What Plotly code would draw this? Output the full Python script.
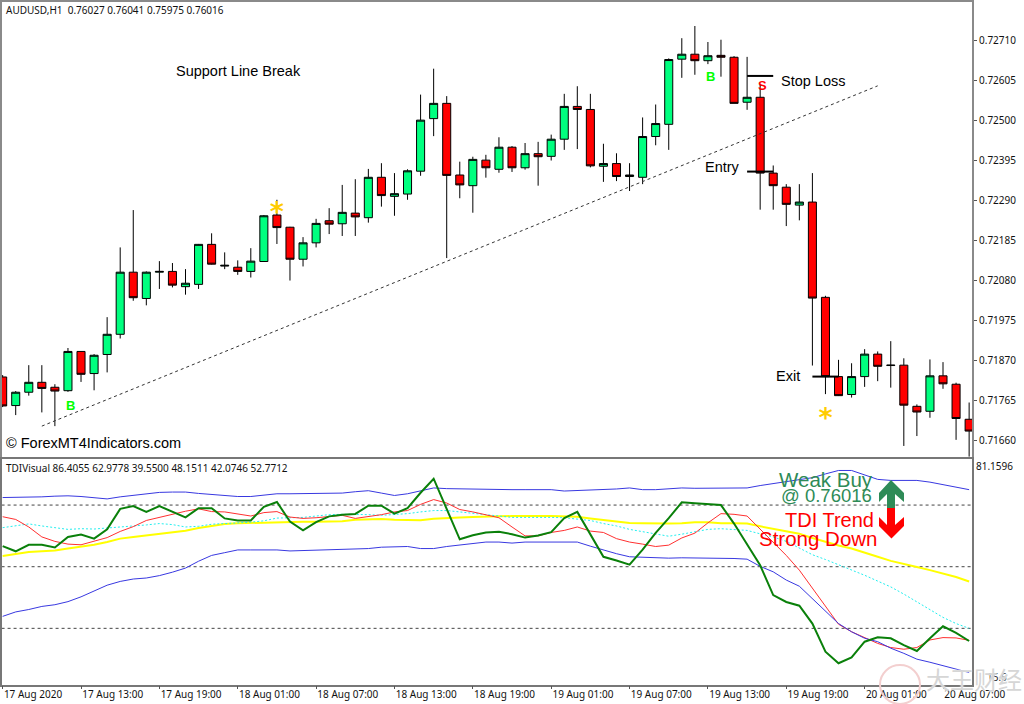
import plotly.graph_objects as go

# ---- price data (in 1e-5 price points) ----
opens_pts = [71828,71753,71788,71814,71801,71792,71895,71837,71887,71940,72103,72034,72103,72105,72065,72071,72176,72119,72116,72105,72131,72253,72221,72137,72180,72238,72230,72258,72246,72352,72302,72308,72368,72506,72546,72358,72330,72397,72373,72431,72377,72414,72407,72452,72538,72530,72381,72388,72354,72352,72459,72491,72662,72675,72658,72672,72667,72549,72562,72363,72326,72279,72287,72037,71829,71782,71829,71888,71858,71859,71751,71738,71831,71809,71717]
highs_pts = [71833,71791,71859,71859,71809,71904,71896,71888,71985,72168,72266,72105,72132,72127,72111,72177,72205,72155,72134,72166,72253,72293,72222,72195,72243,72271,72332,72347,72374,72389,72363,72373,72569,72637,72565,72393,72406,72411,72457,72434,72442,72445,72464,72571,72591,72571,72440,72415,72389,72509,72543,72664,72717,72749,72707,72713,72670,72668,72595,72383,72334,72334,72363,72041,71873,71864,71901,71895,71922,71877,71756,71874,71867,71813,71761]
lows_pts = [71749,71728,71779,71735,71699,71789,71815,71793,71840,71929,72028,72016,72059,72063,72044,72059,72123,72111,72096,72089,72130,72177,72081,72118,72168,72203,72198,72198,72233,72275,72251,72293,72356,72460,72140,72297,72259,72351,72364,72366,72372,72330,72396,72424,72426,72378,72340,72342,72316,72334,72436,72424,72613,72621,72649,72616,72546,72529,72267,72267,72224,72239,71858,71783,71778,71774,71802,71817,71800,71647,71673,71721,71797,71663,71619]
closes_pts = [71752,71788,71814,71798,71791,71895,71835,71885,71940,72103,72036,72103,72105,72069,72074,72176,72124,72121,72105,72132,72251,72220,72137,72180,72231,72229,72260,72248,72352,72304,72309,72369,72502,72546,72357,72332,72399,72377,72431,72377,72414,72406,72452,72538,72530,72382,72388,72354,72358,72459,72493,72661,72675,72658,72671,72667,72546,72562,72363,72330,72281,72287,72035,71829,71779,71829,71888,71856,71859,71754,71736,71831,71810,71719,71686]

# ---- indicator data ----
rsi_green = [56.0,54.5,56.4,56.4,55.6,58.7,59.4,58.2,60.9,66.9,67.7,66.0,67.7,66.0,64.4,67.1,67.1,64.1,63.5,63.5,67.5,68.9,63.2,60.6,63.0,64.7,
             65.2,65.4,67.8,67.8,65.5,67.1,71.6,75.7,66.9,58.0,59.2,60.0,60.2,59.5,58.5,59.1,60.1,64.2,66.0,59.4,52.9,51.8,50.6,55.0,59.9,64.2,
             68.8,68.5,68.2,68.0,62.6,56.7,50.4,41.7,39.7,38.6,33.4,25.2,21.8,23.5,28.1,29.4,29.1,27.1,25.4,29.1,32.6,30.7,28.3]
signal_red = [64.6,63.8,61.6,58.7,57.4,56.6,56.4,57.5,58.5,60.3,61.7,63.5,64.4,65.5,66.2,66.9,66.1,66.0,65.3,64.8,65.8,66.1,64.5,64.1,64.3,64.7,
              65.0,64.1,64.6,65.2,66.0,66.4,68.2,69.6,68.6,66.7,66.0,65.2,64.3,61.6,59.0,59.0,60.0,60.6,61.6,60.4,60.0,58.2,57.2,56.6,55.9,56.3,
              58.4,59.8,62.8,65.5,65.3,64.8,60.9,57.0,53.3,49.0,43.7,38.5,33.2,31.0,29.3,27.6,26.4,25.9,26.4,28.6,29.3,29.2,28.5]
slow_cyan = [61.4,61.9,62.5,61.9,61.3,60.9,61.1,61.0,61.3,61.6,61.7,62.2,62.6,62.3,61.6,61.8,62.4,62.7,62.8,63.0,63.4,64.2,64.3,64.4,64.8,65.2,
             65.3,65.3,65.2,65.0,65.2,65.5,66.0,66.4,66.4,66.0,65.5,65.0,64.7,64.4,64.4,64.5,64.4,64.3,64.0,63.5,62.6,61.9,60.9,60.3,59.7,58.9,
             59.5,60.1,60.9,61.1,60.9,60.6,59.6,58.7,57.4,55.5,53.5,52.1,50.6,49.0,47.5,45.8,44.1,42.0,39.7,37.3,35.2,33.4,32.0]
base_yellow = [53.1,53.7,54.3,54.5,54.7,55.3,55.8,56.4,57.2,58.2,58.7,59.2,59.6,60.0,60.5,61.3,61.9,62.5,62.7,62.8,63.0,63.1,63.1,63.1,63.1,63.1,
               63.3,63.7,63.9,63.9,63.7,63.6,63.6,64.0,64.3,64.4,64.5,64.7,64.7,64.8,64.9,64.8,64.8,64.7,64.6,64.1,63.6,63.3,62.8,62.7,62.6,62.6,
               62.7,63.0,63.0,62.7,62.7,62.6,61.8,61.1,60.3,59.6,58.4,57.2,56.2,55.3,54.0,52.9,51.7,50.9,49.9,49.0,48.0,47.0,45.7]
band_upper = [70.2,70.2,70.2,70.4,70.6,70.7,70.5,70.2,69.8,70.4,70.8,71.2,71.7,71.8,71.8,71.4,71.1,70.8,70.5,70.5,71.0,71.3,71.3,71.3,71.3,71.5,
              71.5,71.9,72.2,71.5,70.8,71.3,72.1,73.0,72.8,72.7,72.7,72.6,72.5,72.5,72.5,72.5,72.5,72.1,72.2,72.4,72.5,72.7,73.0,72.5,72.5,72.8,
              73.0,72.9,72.9,73.0,73.0,73.0,73.7,74.3,74.9,75.5,76.0,77.1,78.1,78.1,76.8,75.5,75.2,75.2,75.2,74.7,74.0,73.3,72.5]
band_lower = [35.5,36.8,37.5,38.4,38.9,39.8,41.2,42.8,44.6,45.7,46.4,46.7,47.4,48.4,49.6,51.6,53.3,54.1,54.9,54.9,54.9,54.9,54.6,54.7,54.9,54.9,
              55.1,55.3,55.3,55.7,55.9,55.9,55.3,55.3,55.9,56.3,56.6,57.2,57.2,56.9,57.2,57.2,57.0,57.2,57.2,56.0,54.8,53.8,52.9,52.7,52.6,52.5,
              52.6,52.6,52.6,52.5,52.4,52.2,50.1,48.5,46.1,44.3,40.7,37.3,33.4,31.0,29.1,28.1,26.2,24.7,23.0,22.1,21.1,20.0,19.1]
levels = [68, 50, 32]

# ---- axis labels ----
price_ticks = [0.72710,0.72605,0.72500,0.72395,0.72290,0.72185,0.72080,0.71975,0.71870,0.71765,0.71660]
time_tick_bars = [0,6,12,18,24,30,36,42,48,54,60,66,72]
time_labels = ["17 Aug 2020","17 Aug 13:00","17 Aug 19:00","18 Aug 01:00","18 Aug 07:00","18 Aug 13:00",
               "18 Aug 19:00","19 Aug 01:00","19 Aug 07:00","19 Aug 13:00","19 Aug 19:00","20 Aug 01:00","20 Aug 07:00"]

# ---- drawn objects on the price chart ----
trend_bars = [3, 67]
trend_prices = [0.71699, 0.72592]
sl_bars, sl_price = [57, 59], 0.72618
entry_bars, entry_price = [57, 59], 0.72367
exit_bars, exit_price = [62, 64], 0.71829
star_bars = [21, 63]
star_prices = [0.72254, 0.71715]

bars = list(range(len(opens_pts)))
W, H = 1024, 704
px = lambda x: x / W
py = lambda y: 1 - y / H
UI = "Noto Sans"
ARIAL = "Liberation Sans"

fig = go.Figure()
BLK = dict(line=dict(color="black", width=1))

fig.add_trace(go.Scatter(x=trend_bars, y=trend_prices, mode="lines", line=dict(color="#333", width=1, dash="3px,3px"), hoverinfo="skip"))
for bx, p in ((sl_bars, sl_price), (entry_bars, entry_price), (exit_bars, exit_price)):
    fig.add_trace(go.Scatter(x=bx, y=[p, p], mode="lines", line=dict(color="black", width=2), hoverinfo="skip"))

fig.add_trace(go.Candlestick(
    x=bars,
    open=[v / 1e5 for v in opens_pts], high=[v / 1e5 for v in highs_pts],
    low=[v / 1e5 for v in lows_pts], close=[v / 1e5 for v in closes_pts],
    increasing=dict(fillcolor="#00FF7F", **BLK),
    decreasing=dict(fillcolor="#FF0000", **BLK),
    whiskerwidth=0, xaxis="x", yaxis="y",
))
fig.add_trace(go.Scatter(x=star_bars, y=star_prices, mode="text", text=["*", "*"], textposition="middle center",
                         textfont=dict(family="DejaVu Sans", size=27, color="#FFCC00", weight="bold"), hoverinfo="skip"))

for lv in levels:
    fig.add_trace(go.Scatter(x=[bars[0] - 1, bars[-1] + 1], y=[lv, lv], mode="lines", xaxis="x2", yaxis="y2",
                             line=dict(color="#444", width=1, dash="3px,3px"), hoverinfo="skip"))
ind = [
    (base_yellow, "#FFFF00", 2, "solid"),
    (slow_cyan, "#22EEEE", 1, "2px,2px"),
    (signal_red, "#FF3030", 1, "solid"),
    (band_upper, "#3838E0", 1, "solid"),
    (band_lower, "#3838E0", 1, "solid"),
    (rsi_green, "#0A800A", 2, "solid"),
]
for vals, col, w, d in ind:
    fig.add_trace(go.Scatter(x=bars, y=vals, mode="lines", xaxis="x2", yaxis="y2",
                             line=dict(color=col, width=w, dash=d), hoverinfo="skip"))

def note(x, y, text, size=14, color="black", family=ARIAL, anchor="left", **kw):
    return dict(xref="paper", yref="paper", x=px(x), y=py(y), text=text, showarrow=False,
                xanchor=anchor, yanchor="middle", borderpad=0,
                font=dict(family=family, size=size, color=color, **kw))

notes = [
    note(5, 10, "AUDUSD,H1&nbsp;&nbsp;0.76027 0.76041 0.75975 0.76016", 10, "#111", UI),
    note(174.5, 71, "Support Line Break", 14.5),
    note(5, 442.5, "© ForexMT4Indicators.com", 14.5),
    note(70, 405, "B", 13, "#00FF00", anchor="center", weight="bold"),
    note(710, 76.5, "B", 13, "#00FF00", anchor="center", weight="bold"),
    note(762, 85, "S", 13, "#FF0000", anchor="center", weight="bold"),
    note(780, 81, "Stop Loss", 14.5),
    note(704, 166.5, "Entry", 14.5),
    note(775, 376, "Exit", 14.5),
    note(5, 467.5, "TDIVisual 86.4055 62.9778 39.5500 48.1511 42.0746 52.7712", 10, "#111", UI),
    note(975, 466, "81.1596", 10, "#111", UI),
    note(986, 677, "15.6", 10, "#111", UI),
    note(826, 479, "Weak Buy", 20.5, "#2E8B57", anchor="center"),
    note(826.5, 495, "@ 0.76016", 18.5, "#2E8B57", anchor="center"),
    note(829, 520, "TDI Trend", 20, "#FF0000", anchor="center"),
    note(818, 538, "Strong Down", 20.5, "#FF0000", anchor="center"),
    note(925, 678, "大王财经", 24, "#D6D6D6", "Noto Sans CJK SC", shadow="0px 0px 2px #ffffff"),
]

def path(points):
    return "M " + " L ".join(f"{px(x):.5f},{py(y):.5f}" for x, y in points) + " Z"

up_arrow = [(891,480),(904,493),(904,502),(895,494),(895,508),(887,508),(887,494),(879,502),(879,493)]
down_arrow = [(887,508),(895,508),(895,525),(904,517),(904,526),(891.5,538.5),(879,526),(879,517),(887,525)]
shapes = [
    dict(type="path", xref="paper", yref="paper", path=path(up_arrow), fillcolor="#2E8B57", line=dict(width=0)),
    dict(type="path", xref="paper", yref="paper", path=path(down_arrow), fillcolor="#FF0000", line=dict(width=0)),
    dict(type="circle", xref="paper", yref="paper", x0=px(880), x1=px(920), y0=py(704), y1=py(665),
         line=dict(color="#F3CFCF", width=2)),
]

tick_font = dict(family=UI, size=10, color="#111")
fig.update_layout(
    width=W, height=H, autosize=False, margin=dict(l=0, r=0, t=0, b=0, autoexpand=False),
    paper_bgcolor="white", plot_bgcolor="white", showlegend=False, boxgap=0.12,
    annotations=notes, shapes=shapes,
    xaxis=dict(domain=[px(2), px(972)], range=[-0.05, 74.22], anchor="y", showgrid=False, zeroline=False,
               showticklabels=False, ticks="", rangeslider=dict(visible=False), automargin=False,
               showline=True, mirror=True, linecolor="#8a8a8a", linewidth=2),
    yaxis=dict(domain=[py(457), py(2)], range=[0.71618, 0.72812], side="right", anchor="x", showgrid=False,
               zeroline=False, tickvals=price_ticks, ticktext=[f"{t:.5f}" for t in price_ticks],
               ticks="outside", ticklen=3, tickcolor="#555", tickfont=tick_font, automargin=False,
               showline=True, mirror=True, linecolor="#8a8a8a", linewidth=2),
    xaxis2=dict(domain=[px(2), px(972)], range=[-0.05, 74.22], anchor="y2", showgrid=False, zeroline=False,
                tickvals=time_tick_bars, ticktext=time_labels, ticks="outside", ticklen=3, tickcolor="#555",
                tickfont=tick_font, ticklabelposition="outside right", tickangle=0, automargin=False,
                showline=True, mirror=True, linecolor="#777", linewidth=1.5),
    yaxis2=dict(domain=[py(684.5), py(458.5)], range=[15.6, 81.6], side="right", anchor="x2", showgrid=False,
                zeroline=False, showticklabels=False, ticks="", automargin=False,
                showline=True, mirror=True, linecolor="#777", linewidth=1.5),
)
fig.write_html("out.html", config=dict(displayModeBar=False),
               post_script="document.body.style.margin='0';document.documentElement.style.overflow='hidden';")
